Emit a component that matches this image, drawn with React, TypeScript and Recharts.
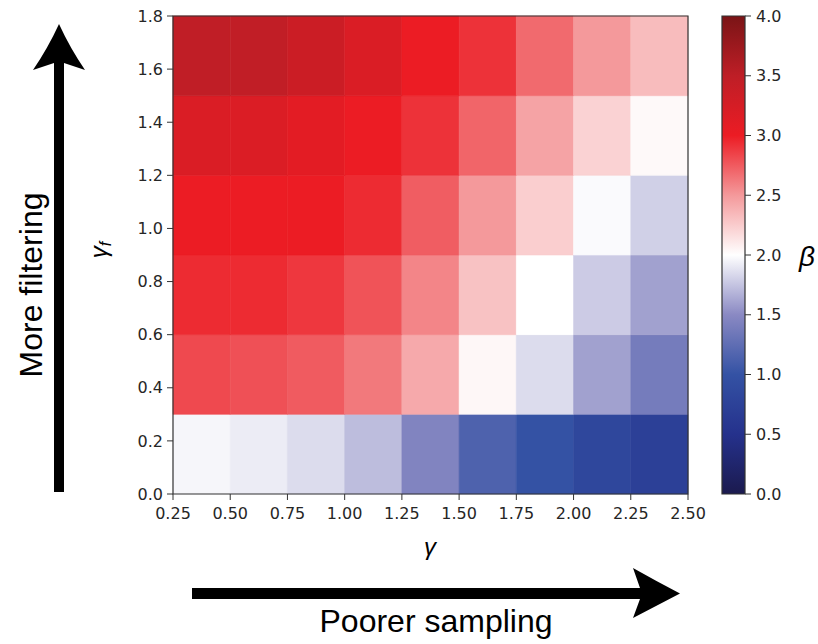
import { ScatterChart, Scatter, XAxis, YAxis, ReferenceArea, BarChart, Bar } from 'recharts'

// cell edges along each axis
const gammaEdges = [0.25, 0.5, 0.75, 1.0, 1.25, 1.5, 1.75, 2.0, 2.25, 2.5]
const gammaFEdges = [0, 0.3, 0.6, 0.9, 1.2, 1.5, 1.8]

const gammaTicks = [0.25, 0.5, 0.75, 1.0, 1.25, 1.5, 1.75, 2.0, 2.25, 2.5]
const gammaFTicks = [0, 0.2, 0.4, 0.6, 0.8, 1.0, 1.2, 1.4, 1.6, 1.8]
const betaTicks = [0, 0.5, 1.0, 1.5, 2.0, 2.5, 3.0, 3.5, 4.0]

// beta for each cell, one row per gamma_f band (bottom to top), one column per gamma band
const betaRow0 = [1.96, 1.92, 1.85, 1.72, 1.45, 1.15, 1.0, 0.83, 0.72]
const betaRow1 = [2.82, 2.79, 2.75, 2.63, 2.42, 2.04, 1.85, 1.6, 1.38]
const betaRow2 = [2.94, 2.94, 2.89, 2.78, 2.58, 2.3, 2.0, 1.78, 1.6]
const betaRow3 = [3.0, 3.0, 3.0, 2.94, 2.74, 2.5, 2.24, 1.98, 1.8]
const betaRow4 = [3.2, 3.19, 3.1, 3.0, 2.91, 2.71, 2.45, 2.22, 2.03]
const betaRow5 = [3.48, 3.47, 3.36, 3.2, 3.0, 2.91, 2.69, 2.5, 2.33]
const betaRows = [betaRow0, betaRow1, betaRow2, betaRow3, betaRow4, betaRow5]

// diverging blue-white-red map over beta 0..4
const cmap: [number, string][] = [
  [0, '#1b1a4e'],
  [0.5, '#25318c'],
  [1.0, '#3452a4'],
  [1.5, '#8a89c3'],
  [2.0, '#ffffff'],
  [2.5, '#f4999b'],
  [3.0, '#ec1c24'],
  [3.5, '#be1e26'],
  [4.0, '#7a1416'],
]
const BETA_MIN = 0
const BETA_MAX = 4

const hex = (c: string) => [1, 3, 5].map((i) => parseInt(c.slice(i, i + 2), 16))

const betaColor = (v: number) => {
  for (let i = 1; i < cmap.length; i++) {
    const [v0, c0] = cmap[i - 1]
    const [v1, c1] = cmap[i]
    if (v <= v1) {
      const t = Math.max(0, (v - v0) / (v1 - v0))
      const a = hex(c0)
      const b = hex(c1)
      const rgb = a.map((x, k) => Math.round(x + (b[k] - x) * t))
      return `rgb(${rgb.join(',')})`
    }
  }
  return cmap[cmap.length - 1][1]
}

const cells = betaRows.flatMap((row, r) =>
  row.map((beta, c) => ({
    x1: gammaEdges[c],
    x2: gammaEdges[c + 1],
    y1: gammaFEdges[r],
    y2: gammaFEdges[r + 1],
    beta,
  }))
)

const centers = cells.map((c) => ({ x: (c.x1 + c.x2) / 2, y: (c.y1 + c.y2) / 2, beta: c.beta }))

const colorbarData = [{ name: 'beta', lo: BETA_MIN, hi: BETA_MAX }]

const tickFont = { fontFamily: 'DejaVu Sans', fontSize: 16, fill: '#262626' }
const noteFont = 'Liberation Sans'

const Heatmap = () => (
  <ScatterChart width={818} height={644} margin={{ top: 16, right: 130, bottom: 120, left: 113 }}>
    <XAxis
      type="number"
      dataKey="x"
      domain={[0.25, 2.5]}
      ticks={gammaTicks}
      tickFormatter={(v: number) => v.toFixed(2)}
      axisLine={false}
      tickLine={{ stroke: '#333' }}
      tickSize={6}
      tickMargin={8}
      tick={tickFont}
      interval={0}
      allowDataOverflow
    />
    <YAxis
      type="number"
      dataKey="y"
      domain={[0, 1.8]}
      ticks={gammaFTicks}
      tickFormatter={(v: number) => v.toFixed(1)}
      axisLine={false}
      tickLine={{ stroke: '#333' }}
      tickSize={6}
      tickMargin={4}
      tick={tickFont}
      width={60}
      interval={0}
      allowDataOverflow
    />
    {cells.map((c, i) => (
      <ReferenceArea
        key={i}
        x1={c.x1}
        x2={c.x2}
        y1={c.y1}
        y2={c.y2}
        fill={betaColor(c.beta)}
        fillOpacity={1}
        stroke={betaColor(c.beta)}
        strokeWidth={0.6}
      />
    ))}
    <ReferenceArea x1={0.25} x2={2.5} y1={0} y2={1.8} fill="none" stroke="#333" strokeWidth={1.2} />
    <Scatter data={centers} shape={() => <g />} isAnimationActive={false} />
  </ScatterChart>
)

const Colorbar = () => (
  <BarChart
    width={100}
    height={644}
    data={colorbarData}
    margin={{ top: 16, right: 0, bottom: 150, left: 22 }}
    barCategoryGap={0}
  >
    <defs>
      <linearGradient id="betaGradient" x1="0" y1="1" x2="0" y2="0">
        {cmap.map(([v, c]) => (
          <stop key={v} offset={(v - BETA_MIN) / (BETA_MAX - BETA_MIN)} stopColor={c} />
        ))}
      </linearGradient>
    </defs>
    <XAxis dataKey="name" hide />
    <YAxis
      orientation="right"
      type="number"
      domain={[BETA_MIN, BETA_MAX]}
      ticks={betaTicks}
      tickFormatter={(v: number) => v.toFixed(1)}
      axisLine={false}
      tickLine={{ stroke: '#333' }}
      tickSize={6}
      tickMargin={5}
      tick={{ ...tickFont, textAnchor: 'start' }}
      width={55}
      interval={0}
    />
    <Bar dataKey={(d: any) => [d.lo, d.hi]} fill="url(#betaGradient)" stroke="#333" strokeWidth={1.2} isAnimationActive={false} />
  </BarChart>
)

const Annotations = () => (
  <svg width={818} height={644} style={{ position: 'absolute', left: 0, top: 0, pointerEvents: 'none' }}>
    {/* upward arrow */}
    <path d="M59,24 Q70,48 85,70 L64,63 L64,492 L54,492 L54,63 L33,70 Q48,48 59,24 Z" fill="#000" />
    <text
      transform="translate(42,285) rotate(-90)"
      textAnchor="middle"
      fontFamily={noteFont}
      fontSize={32}
      fill="#000"
    >
      More filtering
    </text>
    {/* rightward arrow */}
    <path d="M680,593.5 Q656,581 633,568 L640,588 L192,588 L192,599 L640,599 L633,618 Q656,606 680,593.5 Z" fill="#000" />
    <text x={436} y={632} textAnchor="middle" fontFamily={noteFont} fontSize={32} fill="#000">
      Poorer sampling
    </text>
    {/* axis labels */}
    <text x={430} y={555} textAnchor="middle" fontFamily={noteFont} fontStyle="italic" fontSize={24} fill="#000">
      γ
    </text>
    <text
      transform="translate(107,250) rotate(-90)"
      textAnchor="middle"
      fontFamily={noteFont}
      fontStyle="italic"
      fontSize={24}
      fill="#000"
    >
      γ<tspan fontSize={16} dy={4}>f</tspan>
    </text>
    <text x={807} y={266} textAnchor="middle" fontFamily={noteFont} fontStyle="italic" fontSize={28} fill="#000">
      β
    </text>
  </svg>
)

export default function App() {
  return (
    <div style={{ position: 'fixed', left: 0, top: 0, width: 818, height: 644, background: '#fff' }}>
      <div style={{ position: 'absolute', left: 0, top: 0 }}>
        <Heatmap />
      </div>
      <div style={{ position: 'absolute', left: 700, top: 0 }}>
        <Colorbar />
      </div>
      <Annotations />
    </div>
  )
}
